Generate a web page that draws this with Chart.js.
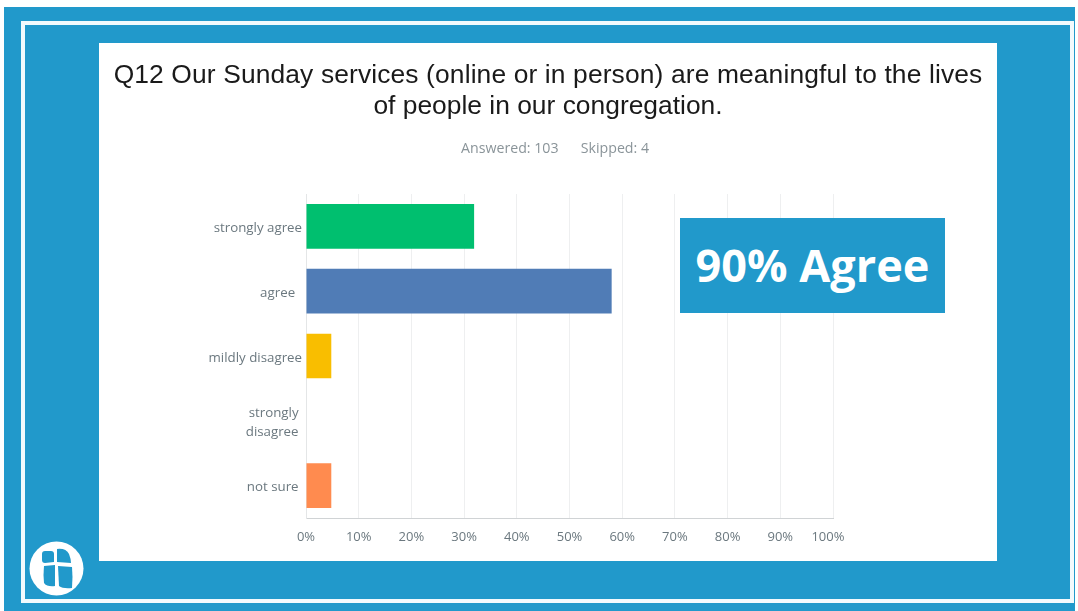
<!DOCTYPE html>
<html>
<head>
<meta charset="utf-8">
<title>Q12</title>
<script src="https://cdn.jsdelivr.net/npm/chart.js@4"></script>
<style>
    html, body { margin: 0; padding: 0; background: #fff; }
    body { width: 1078px; height: 611px; position: relative; overflow: hidden; }
    #bg { position: absolute; left: 4px; top: 7px; width: 1071px; height: 604px; background: #2199cb; }
    #frame { position: absolute; left: 21px; top: 21px; width: 1045px; height: 574px; border: 4px solid #f2fafd; }
    #panel { position: absolute; left: 99px; top: 43px; width: 898px; height: 518px; background: #fff; }
    #chart { position: absolute; left: 0; top: 0; }
    #title {
        position: absolute; left: 0; top: 16px; width: 898px; text-align: center; color: #1a1a1a;
        font: 26.4px/31px "Liberation Sans", sans-serif; white-space: nowrap;
    }
    #title span { letter-spacing: 0.125px; }
    #subtitle {
        position: absolute; left: 362px; top: 95px; color: #8a9499;
        font: 14.2px/20px "Open Sans", sans-serif; white-space: pre;
    }
    #callout {
        position: absolute; left: 680px; top: 218px; width: 265px; height: 95px;
        background: #2199cb; color: #fff; text-align: center;
        font: bold 45px/93px "Open Sans", sans-serif;
    }
    #logo { position: absolute; left: 29px; top: 541px; }
</style>
</head>
<body>
<div id="bg"></div>
<div id="frame"></div>
<div id="panel">
    <canvas id="chart" width="898" height="518"></canvas>
    <div id="title"></div>
    <div id="subtitle"></div>
</div>
<div id="callout">90% Agree</div>
<svg id="logo" width="56" height="56" viewBox="0 0 56 56">
    <circle cx="27.5" cy="27.5" r="27" fill="#fff"/>
    <path d="M13 13 Q13 10 16 10 L22 10 Q25 10 25 13 L25 21 L16 22 Q13 22 13 19 Z" fill="#2199cb"/>
    <path d="M28 8 Q37 7 40 13 Q42 18 42 22 L28 21 Z" fill="#2199cb"/>
    <path d="M15 25 L26 24 L26 45 Q18 46 15 42 Q14 34 15 25 Z" fill="#2199cb"/>
    <path d="M29 25 L43 26 Q44 36 43 47 Q34 48 30 45 Z" fill="#2199cb"/>
</svg>

<script>
const categories = ["strongly agree", "agree  ", "mildly disagree", ["strongly ", "disagree "], "not sure "];
const percents = [31.9, 58, 4.8, 0, 4.8];
const barColors = ["#00bf6f", "#507cb6", "#f9be00", "#ffffff", "#ff8b4f"];
const xTicks = [0, 10, 20, 30, 40, 50, 60, 70, 80, 90, 100];
const titleLines = ["Q12 Our Sunday services (online or in person) are meaningful to the lives", "of people in our congregation."];
const subtitleText = "Answered: 103      Skipped: 4";

document.getElementById("title").innerHTML = "<span>" + titleLines[0] + "</span><br>" + titleLines[1];
document.getElementById("subtitle").textContent = subtitleText;

const tickColor = "#6b787f";
const tickFont = { family: "'Open Sans', sans-serif", size: 13.3, lineHeight: 1.4 };

new Chart(document.getElementById("chart"), {
    type: "bar",
    data: {
        labels: categories,
        datasets: [{
            data: percents,
            backgroundColor: barColors,
            categoryPercentage: 1,
            barPercentage: 0.69
        }]
    },
    options: {
        indexAxis: "y",
        responsive: false,
        animation: false,
        layout: { padding: { left: 0, right: 164, top: 151, bottom: 13 } },
        plugins: {
            legend: { display: false },
            tooltip: { enabled: false }
        },
        scales: {
            x: {
                min: 0,
                max: 100,
                afterBuildTicks: scale => { scale.ticks = xTicks.map(v => ({ value: v })); },
                ticks: {
                    autoSkip: false,
                    maxRotation: 0,
                    padding: 10,
                    color: tickColor,
                    font: { family: "'Open Sans', sans-serif", size: 13, lineHeight: 1.4 },
                    // the last label sits a little left of its gridline in the original
                    callback: v => v === 100 ? v + "%   " : v + "%"
                },
                grid: { color: "#eeeff0", drawTicks: false },
                border: { color: "#d0d3d5" },
                afterFit: scale => { scale.height = 30; }
            },
            y: {
                ticks: { color: tickColor, font: tickFont, padding: 4, labelOffset: 2 },
                grid: { display: false, drawTicks: false },
                border: { color: "#e4e6e7" },
                afterFit: scale => { scale.width = 207; }
            }
        }
    }
});
</script>
</body>
</html>
